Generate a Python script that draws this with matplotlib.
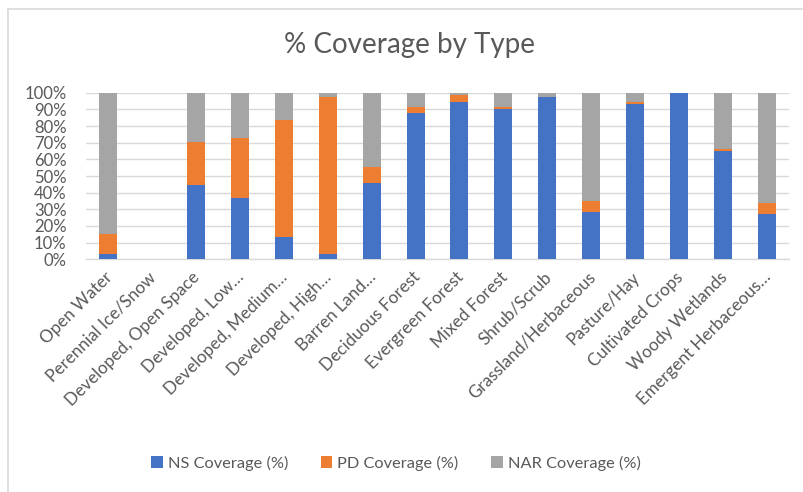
import matplotlib
matplotlib.use("Agg")
import matplotlib.pyplot as plt
import matplotlib.transforms as mtransforms
import numpy as np

categories = [
    "Open Water", "Perennial Ice/Snow", "Developed, Open Space", "Developed, Low\u2026",
    "Developed, Medium\u2026", "Developed, High\u2026", "Barren Land\u2026",
    "Deciduous Forest", "Evergreen Forest", "Mixed Forest", "Shrub/Scrub",
    "Grassland/Herbaceous", "Pasture/Hay", "Cultivated Crops", "Woody Wetlands",
    "Emergent Herbaceous\u2026",
]
ns_cov = [3.2, 0, 44.6, 36.6, 13.6, 3.2, 46.0, 88.0, 94.4, 90.2, 97.2, 28.4, 93.0, 100.0, 65.0, 27.0]
pd_cov = [11.8, 0, 25.6, 36.4, 70.0, 94.0, 9.2, 3.6, 4.2, 1.4, 0.2, 6.8, 1.4, 0.0, 1.2, 6.8]
nar_cov = [85.0, 0, 29.8, 27.0, 16.4, 2.8, 44.8, 8.4, 1.4, 8.4, 2.6, 64.8, 5.6, 0.0, 33.8, 66.2]
series_names = ["NS Coverage (%)", "PD Coverage (%)", "NAR Coverage (%)"]
colors = ["#4472C4", "#ED7D31", "#A5A5A5"]
yticks = [0, 10, 20, 30, 40, 50, 60, 70, 80, 90, 100]

plt.rcParams["font.family"] = ["Lato", "DejaVu Sans"]
text_color = "#595959"

fig = plt.figure(figsize=(8.04, 4.92), dpi=100)
ax = fig.add_axes([86 / 804, 1 - 259.3 / 492, (789 - 86) / 804, (259.3 - 92.7) / 492])

# normalise each category to 100% stacked
data = np.array([ns_cov, pd_cov, nar_cov], dtype=float)
totals = data.sum(axis=0)
pct = np.divide(data * 100, totals, out=np.zeros_like(data), where=totals > 0)

x = np.arange(len(categories))
bottom = np.zeros(len(categories))
handles = []
for vals, name, c in zip(pct, series_names, colors):
    h = ax.bar(x, vals, width=0.41, bottom=bottom, color=c, label=name, zorder=3)
    handles.append(h)
    bottom += vals

ax.set_xlim(-0.5, len(categories) - 0.5)
ax.set_ylim(0, 100)
ax.set_yticks(yticks)
ax.set_yticklabels([f"{t}%" for t in yticks], color=text_color, fontsize=12)
ax.yaxis.grid(True, color="#D9D9D9", linewidth=1.0, zorder=0)
ax.set_axisbelow(True)
for s in ["top", "right", "left"]:
    ax.spines[s].set_visible(False)
ax.spines["bottom"].set_color("#D9D9D9")
ax.spines["bottom"].set_linewidth(1.0)
ax.tick_params(axis="y", length=0, pad=14)
ax.tick_params(axis="x", length=0, pad=7)
ax.set_xticks(x)
ax.set_xticklabels(categories, rotation=45, ha="right", rotation_mode="anchor",
                   color=text_color, fontsize=12.3)
# nudge the rotated labels slightly left of the bar centres
offset = mtransforms.ScaledTranslation(-4 / 100, 0, fig.dpi_scale_trans)
for lbl in ax.get_xticklabels():
    lbl.set_transform(lbl.get_transform() + offset)

fig.text(410 / 804, 1 - 45 / 492, "% Coverage by Type", ha="center", va="center",
         fontsize=20, color=text_color)

fig.legend(handles=handles, labels=series_names, loc="center",
           bbox_to_anchor=(396 / 804, 1 - 463 / 492), ncol=3, frameon=False,
           fontsize=11.8, labelcolor=text_color, handlelength=0.7, handleheight=0.7,
           handletextpad=0.3, columnspacing=2.0)

# thin chart-area border
fig.add_artist(plt.Line2D([8 / 804, 8 / 804], [0, 1 - 9 / 492], transform=fig.transFigure,
                          color="#D9D9D9", linewidth=1.2))
fig.add_artist(plt.Line2D([8 / 804, 1], [1 - 9 / 492, 1 - 9 / 492], transform=fig.transFigure,
                          color="#D9D9D9", linewidth=1.2))

fig.savefig("out.png", dpi=100)
